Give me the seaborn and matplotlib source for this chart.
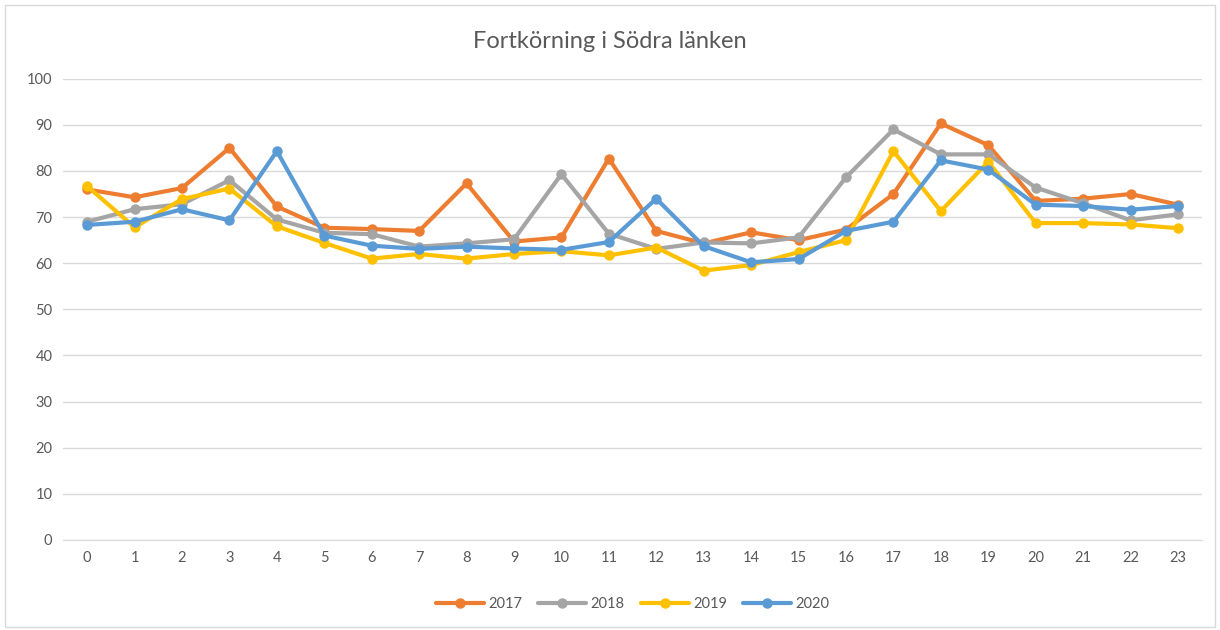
import matplotlib
matplotlib.use("Agg")
import matplotlib.pyplot as plt
import seaborn as sns
import pandas as pd

hours = list(range(24))
y2017 = [76.0, 74.3, 76.3, 85.0, 72.3, 67.7, 67.4, 67.0, 77.3, 64.7, 65.6, 82.7,
         67.0, 64.3, 66.7, 65.0, 67.3, 75.0, 90.3, 85.6, 73.5, 74.0, 75.0, 72.7]
y2018 = [69.0, 71.7, 72.8, 78.0, 69.5, 66.6, 66.3, 63.6, 64.3, 65.2, 79.3, 66.4,
         63.1, 64.5, 64.3, 65.6, 78.6, 89.0, 83.6, 83.6, 76.4, 73.0, 69.3, 70.6]
y2019 = [76.7, 67.8, 73.9, 76.2, 68.0, 64.4, 61.0, 62.0, 61.0, 62.0, 62.6, 61.7,
         63.4, 58.4, 59.6, 62.4, 65.0, 84.3, 71.3, 82.0, 68.7, 68.7, 68.4, 67.6]
y2020 = [68.3, 69.0, 71.7, 69.3, 84.3, 66.0, 63.8, 63.1, 63.6, 63.2, 62.9, 64.6,
         74.0, 63.7, 60.2, 60.9, 67.0, 69.0, 82.3, 80.3, 72.7, 72.4, 71.6, 72.4]
years = ["2017", "2018", "2019", "2020"]
colors = ["#ED7D31", "#A5A5A5", "#FFC000", "#5B9BD5"]

df = pd.concat([
    pd.DataFrame({"hour": hours, "value": vals, "year": yr})
    for yr, vals in zip(years, [y2017, y2018, y2019, y2020])
])

sns.set_style("white")
plt.rcParams['font.family'] = ['Lato', 'DejaVu Sans']

fig = plt.figure(figsize=(12.2, 6.3), dpi=100)
ax = fig.add_axes([0.052, 0.143, 0.933, 0.732])

sns.lineplot(data=df, x="hour", y="value", hue="year", palette=colors,
             marker="o", markersize=7.5, markeredgewidth=0, linewidth=3,
             ax=ax)

ax.set_xlim(-0.5, 23.5)
ax.set_ylim(0, 100)
ax.set_yticks(range(0, 101, 10))
ax.set_xticks(hours)
ax.grid(axis="y", color="#D9D9D9", linewidth=1)
ax.set_axisbelow(True)
for s in ["top", "right", "left"]:
    ax.spines[s].set_visible(False)
ax.spines["bottom"].set_color("#D9D9D9")
ax.tick_params(axis="both", colors="#595959", labelsize=10.5, length=0, pad=8)
ax.set_xlabel("")
ax.set_ylabel("")

ax.legend(loc="upper center", bbox_to_anchor=(0.5, -0.095), ncol=4,
          frameon=False, fontsize=10.5, handlelength=3.3, handletextpad=0.3,
          columnspacing=1.1, labelcolor="#595959")

fig.suptitle("Fortkörning i Södra länken", x=0.5, y=0.95, fontsize=17,
             color="#595959")

fig.patches.append(plt.Rectangle((0.004, 0.004), 0.992, 0.988,
                                 transform=fig.transFigure, fill=False,
                                 edgecolor="#D9D9D9", linewidth=1))

fig.savefig("out.png", dpi=100)
